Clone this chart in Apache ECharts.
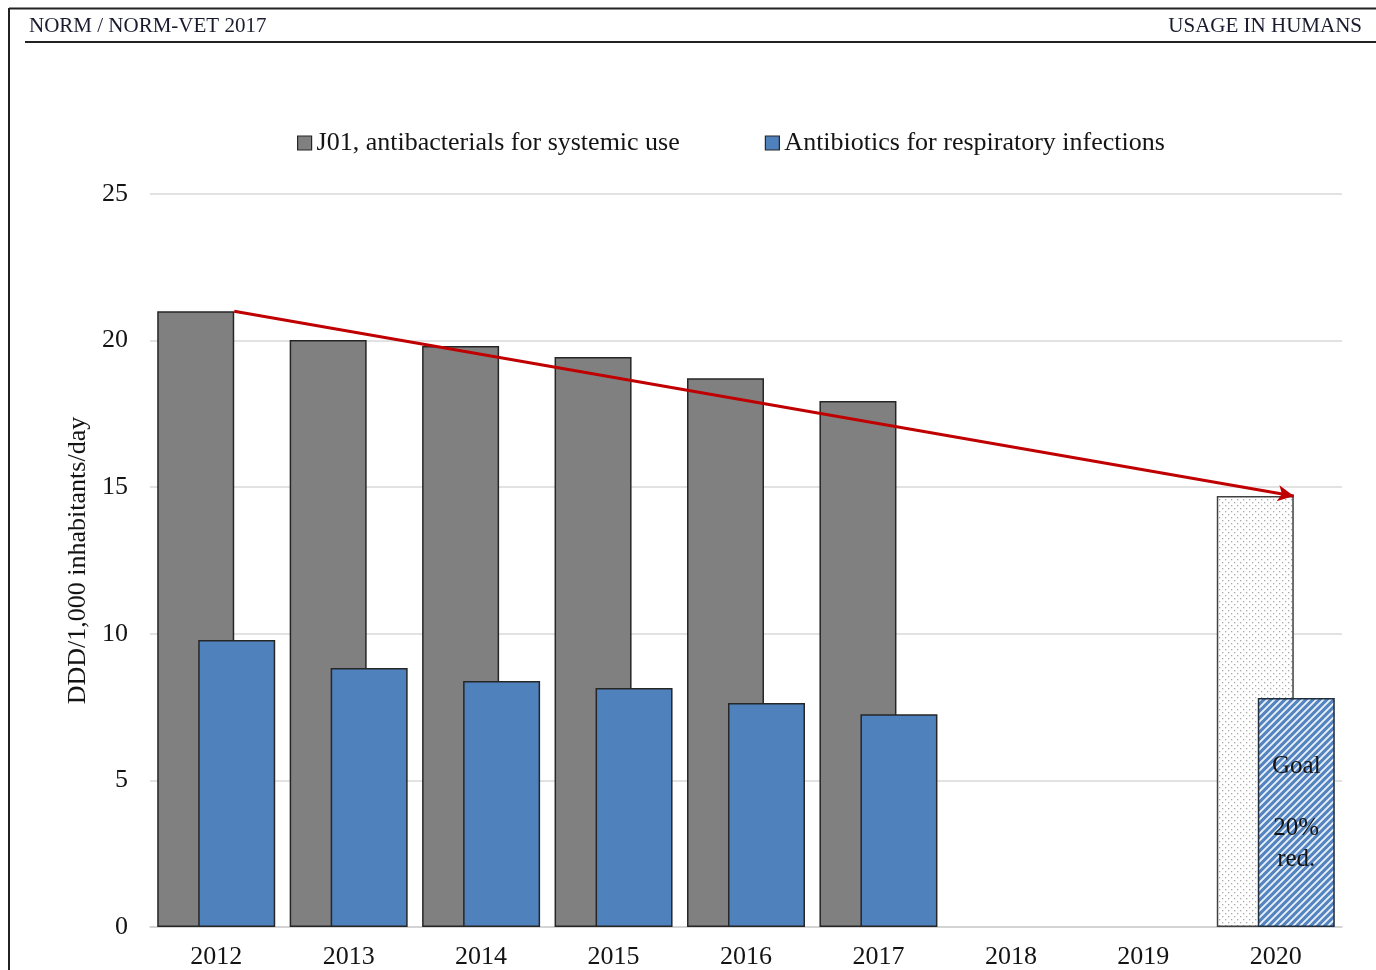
<!DOCTYPE html>
<html>
<head>
<meta charset="utf-8">
<script src="https://cdn.jsdelivr.net/npm/echarts@6/dist/echarts.min.js"></script>
<style>
html,body{margin:0;padding:0;background:#fff;}
#chart{width:1376px;height:970px;}
</style>
</head>
<body>
<div id="chart"></div>
<script>
// ---- data ----
const years = ['2012','2013','2014','2015','2016','2017','2018','2019','2020'];
const j01 = [21.0, 20.02, 19.82, 19.44, 18.72, 17.94, null, null, 14.7];
const respiratory = [9.79, 8.83, 8.39, 8.15, 7.64, 7.26, null, null, 7.81];
const goalIndex = 8;
const yTicks = [0, 5, 10, 15, 20, 25];
const seriesNames = ['J01, antibacterials for systemic use', 'Antibiotics for respiratory infections'];
const goalLabel = 'Goal\n\n20%\nred.';
const headerLeft = 'NORM / NORM-VET 2017';
const headerRight = 'USAGE IN HUMANS';
const yAxisName = 'DDD/1,000 inhabitants/day';

// ---- layout ----
const W = 1376, H = 970;
const GRID = {left: 150, right: 34, top: 194, bottom: 43};
const BAR_W = 77, GAP_PX = -36;
const FONT = '"Liberation Serif", "Times New Roman", "DejaVu Serif", serif';
const TXT = '#141414';

function makeDots() {
  const c = document.createElement('canvas');
  c.width = 6; c.height = 6;
  const g = c.getContext('2d');
  g.fillStyle = '#ffffff'; g.fillRect(0, 0, 6, 6);
  g.fillStyle = '#a8a8a8';
  g.fillRect(1, 1, 1.3, 1.3);
  g.fillRect(4, 4, 1.3, 1.3);
  return c;
}
function makeHatch() {
  const s = 7;
  const c = document.createElement('canvas');
  c.width = s; c.height = s;
  const g = c.getContext('2d');
  g.fillStyle = '#5585c0'; g.fillRect(0, 0, s, s);
  g.strokeStyle = '#eef3fa'; g.lineWidth = 1.8;
  g.beginPath();
  g.moveTo(-1, s + 1); g.lineTo(s + 1, -1);
  g.moveTo(-1, 1); g.lineTo(1, -1);
  g.moveTo(s - 1, s + 1); g.lineTo(s + 1, s - 1);
  g.stroke();
  return c;
}

const n = years.length;
const catW = (W - GRID.left - GRID.right) / n;
const groupW = 2 * BAR_W + GAP_PX;
const grayRightOffset = (-groupW / 2 + BAR_W) / catW; // right edge of first bar, in category units
const arrowStart = [0 + 0.5 + grayRightOffset, j01[0]];
const arrowEnd = [goalIndex + 0.5 + grayRightOffset, j01[goalIndex]];

const borderStyle = {borderColor: '#262626', borderWidth: 1.5};

const j01Data = j01.map((v, i) => i === goalIndex
  ? {value: v, itemStyle: {color: {image: makeDots(), repeat: 'repeat'}, borderColor: '#404040', borderWidth: 1.5}}
  : v);
const respData = respiratory.map((v, i) => i === goalIndex
  ? {value: v, itemStyle: {color: {image: makeHatch(), repeat: 'repeat'}, borderColor: '#1f2d3d', borderWidth: 1.5},
     label: {show: true, position: 'inside', formatter: goalLabel, fontFamily: FONT, fontSize: 25, lineHeight: 31, color: TXT}}
  : v);

const chart = echarts.init(document.getElementById('chart'), null, {renderer: 'canvas'});
chart.setOption({
  animation: false,
  backgroundColor: '#ffffff',
  textStyle: {fontFamily: FONT},
  grid: GRID,
  legend: {
    left: 292, top: 125,
    data: seriesNames,
    itemWidth: 14, itemHeight: 14, itemGap: 85,
    icon: 'rect',
    textStyle: {fontFamily: FONT, fontSize: 26, color: TXT},
    itemStyle: {borderColor: '#262626', borderWidth: 1.2}
  },
  xAxis: [{
    type: 'category', data: years,
    axisLine: {lineStyle: {color: '#d0d0d0', width: 1.5}},
    axisTick: {show: false},
    axisLabel: {fontFamily: FONT, fontSize: 26, color: TXT, margin: 17}
  }, {
    type: 'value', min: 0, max: n, show: false
  }],
  yAxis: {
    type: 'value', min: yTicks[0], max: yTicks[yTicks.length - 1], interval: yTicks[1] - yTicks[0],
    name: yAxisName, nameLocation: 'middle', nameGap: 57, nameRotate: 90,
    nameTextStyle: {fontFamily: FONT, fontSize: 26, color: TXT},
    axisLine: {show: false}, axisTick: {show: false},
    axisLabel: {fontFamily: FONT, fontSize: 26, color: TXT, margin: 22},
    splitLine: {lineStyle: {color: '#d9d9d9', width: 1.5}}
  },
  series: [{
    name: seriesNames[0], type: 'bar', data: j01Data,
    barWidth: BAR_W, barGap: (GAP_PX / BAR_W * 100) + '%',
    itemStyle: Object.assign({color: '#808080'}, borderStyle)
  }, {
    name: seriesNames[1], type: 'bar', data: respData,
    barWidth: BAR_W,
    itemStyle: Object.assign({color: '#4F81BD'}, borderStyle)
  }, {
    name: 'trend', type: 'line', xAxisIndex: 1,
    data: [arrowStart, arrowEnd], symbol: 'none',
    lineStyle: {opacity: 0}, silent: true,
    markLine: {
      silent: true, symbol: ['none', 'arrow'], symbolSize: [12, 16],
      label: {show: false},
      lineStyle: {color: '#C00000', width: 3, type: 'solid'},
      data: [[{coord: arrowStart}, {coord: arrowEnd}]]
    }
  }],
  graphic: [
    {type: 'line', shape: {x1: 9, y1: 8, x2: 9, y2: H}, style: {stroke: '#222', lineWidth: 2}},
    {type: 'line', shape: {x1: 9, y1: 8.5, x2: W, y2: 8.5}, style: {stroke: '#222', lineWidth: 2}},
    {type: 'line', shape: {x1: 25, y1: 42, x2: W, y2: 42}, style: {stroke: '#222', lineWidth: 2}},
    {type: 'text', left: 29, top: 16, style: {text: headerLeft, font: '21px ' + FONT, fill: '#1a1a2e'}},
    {type: 'text', right: 14, top: 16, style: {text: headerRight, font: '21px ' + FONT, fill: '#1a1a2e'}}
  ]
});
</script>
</body>
</html>
